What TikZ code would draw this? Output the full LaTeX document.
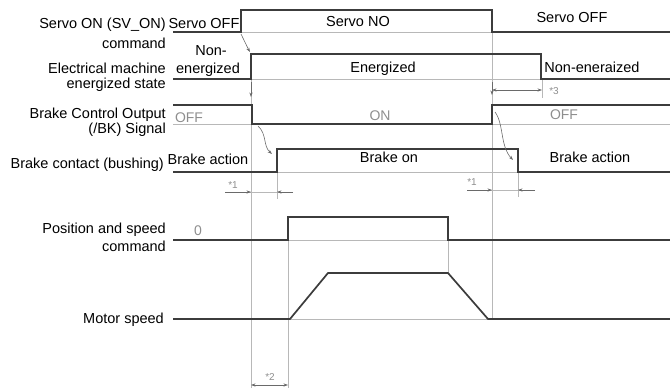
\documentclass[tikz,border=0pt]{standalone}
\usepackage{fontspec}
\setmainfont{Liberation Sans}
\usetikzlibrary{arrows.meta}
\definecolor{sigc}{HTML}{3C3C3C}
\definecolor{guidec}{HTML}{B8B8B8}
\definecolor{softc}{HTML}{8E8E8E}
\definecolor{arrc}{HTML}{6A6A6A}
\begin{document}
\begin{tikzpicture}[x=1pt,y=-1pt,
  sig/.style={draw=sigc, line width=1.7pt, line join=miter},
  guide/.style={draw=guidec, line width=0.8pt},
  lbl/.style={font=\fontsize{14.5}{16}\selectfont, text=black, inner sep=0pt},
  lble/.style={lbl, anchor=base east},
  lblc/.style={lbl, anchor=base},
  soft/.style={lbl, anchor=base, text=softc, font=\fontsize{14}{16}\selectfont},
  note/.style={inner sep=0pt, anchor=base, text=softc, font=\fontsize{10}{11}\selectfont},
  dim/.style={draw=arrc, line width=0.6pt, -{Stealth[length=4.5pt,width=3.2pt]}},
  dimb/.style={draw=arrc, line width=0.6pt, {Stealth[length=4.5pt,width=3.2pt]}-{Stealth[length=4.5pt,width=3.2pt]}},
  cause/.style={draw=arrc, line width=0.6pt, -{Stealth[length=4.5pt,width=3.2pt]}}
]
\useasboundingbox (0,0) rectangle (670,388);

% ---------- guide lines ----------
\draw[guide] (251,54) -- (251,388);
\draw[guide] (288,217) -- (288,388);
\draw[guide] (492,10) -- (492,319);
\draw[guide] (448,240) -- (448,273);
\draw[guide] (542,79) -- (542,98);
\draw[guide] (277,172) -- (277,199);
\draw[guide] (518,172) -- (518,197);
% baselines under high sections
\draw[guide] (241,32) -- (492,32);
\draw[guide] (251,79) -- (541,79);
\draw[guide] (173,124) -- (252,124);
\draw[guide] (492,124) -- (670,124);
\draw[guide] (277,172) -- (518,172);
\draw[guide] (288,240) -- (448,240);
\draw[guide] (290,319) -- (488,319);
\draw[guide] (225,192) -- (293,192);
\draw[guide] (467,190) -- (535,190);

% ---------- signals ----------
\draw[sig] (173,32) -- (241,32) -- (241,10) -- (492,10) -- (492,32) -- (670,32);
\draw[sig] (173,79) -- (251,79) -- (251,54) -- (541,54) -- (541,79) -- (670,79);
\draw[sig] (173,105) -- (252,105) -- (252,124) -- (492,124) -- (492,105) -- (670,105);
\draw[sig] (173,172) -- (277,172) -- (277,149) -- (518,149) -- (518,172) -- (670,172);
\draw[sig] (173,240) -- (288,240) -- (288,217) -- (448,217) -- (448,240) -- (670,240);
\draw[sig] (173,319) -- (290,319) -- (328,273) -- (448,273) -- (488,319) -- (670,319);

% ---------- named points for arrows ----------
\coordinate (c1a) at (241,34);  \coordinate (c1b) at (250,52);
\coordinate (c2a) at (251,82);  \coordinate (c2b) at (251,97);
\coordinate (c3a) at (258,126); \coordinate (c3b) at (272,154);
\coordinate (c4a) at (495,112); \coordinate (c4b) at (513,160);
\coordinate (c5a) at (492,82);  \coordinate (c5b) at (492,95);
\coordinate (d3a) at (492,90);  \coordinate (d3b) at (542,90);
\coordinate (d1a) at (225,192); \coordinate (d1b) at (251,192);
\coordinate (d1c) at (293,192); \coordinate (d1d) at (277,192);
\coordinate (e1a) at (467,190); \coordinate (e1b) at (492,190);
\coordinate (e1c) at (535,190); \coordinate (e1d) at (518,190);
\coordinate (d2a) at (251,385); \coordinate (d2b) at (288,385);

\draw[cause] (c1a) .. controls (244,42) .. (c1b);
\draw[cause] (c2a) -- (c2b);
\draw[cause] (c3a) .. controls (267,134) and (263,146) .. (c3b);
\draw[cause] (c4a) .. controls (504,124) and (500,146) .. (c4b);
\draw[cause] (c5a) -- (c5b);
\draw[dimb] (d3a) -- (d3b);
\draw[dim] (d1a) -- (d1b);
\draw[dim] (d1c) -- (d1d);
\draw[dim] (e1a) -- (e1b);
\draw[dim] (e1c) -- (e1d);
\draw[dimb] (d2a) -- (d2b);

% ---------- left labels ----------
\node[lble] (l1a) at (166,28) {Servo ON (SV\_ON)};
\node[lble] (l1b) at (166,48) {command};
\node[lble] (l2a) at (166,73) {Electrical machine};
\node[lble] (l2b) at (166,88) {energized state};
\node[lble] (l3a) at (166,118) {Brake Control Output};
\node[lble] (l3b) at (166,133) {(/BK) Signal};
\node[lble] (l4) at (164,168) {Brake contact (bushing)};
\node[lble] (l5a) at (166,233) {Position and speed};
\node[lble] (l5b) at (166,251) {command};
\node[lble] (l6) at (164,323) {Motor speed};

% ---------- state labels ----------
\node[lblc] (s1a) at (204,28) {Servo OFF};
\node[lblc] (s1b) at (358,27) {Servo NO};
\node[lblc] (s1c) at (572,22) {Servo OFF};
\node[lblc] (s2a) at (211,55) {Non-};
\node[lblc] (s2b) at (208,73) {energized};
\node[lblc] (s2c) at (383,72) {Energized};
\node[lblc] (s2d) at (592,72) {Non-eneraized};
\node[soft] (s3a) at (189,122) {OFF};
\node[soft] (s3b) at (380,120) {ON};
\node[soft] (s3c) at (564,119) {OFF};
\node[lblc] (s4a) at (208,164) {Brake action};
\node[lblc] (s4b) at (389,162) {Brake on};
\node[lblc] (s4c) at (590,162) {Brake action};
\node[soft] (s5) at (198,235) {0};

% ---------- notes ----------
\node[note] (n1) at (233,188) {*1};
\node[note] (n2) at (472,185) {*1};
\node[note] (n3) at (270,380) {*2};
\node[note] (n4) at (554,94) {*3};
\end{tikzpicture}
\end{document}
